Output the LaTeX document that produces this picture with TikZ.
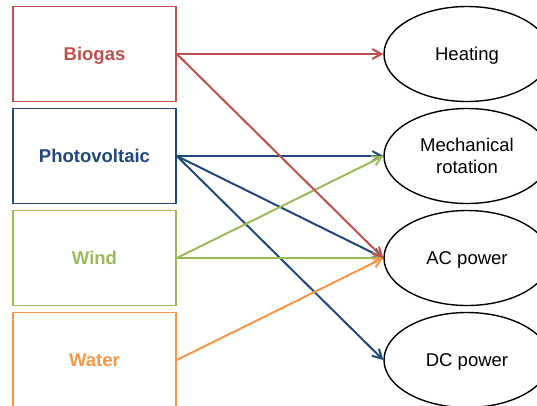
\documentclass[tikz,border=0pt]{standalone}
\usepackage{fontspec}
\setmainfont{Liberation Sans}
\usetikzlibrary{arrows.meta,positioning,shapes.geometric}
\definecolor{biored}{HTML}{C0504D}
\definecolor{pvblue}{HTML}{1F497D}
\definecolor{windgreen}{HTML}{9BBB59}
\definecolor{waterorange}{HTML}{F79646}
\tikzset{
  source/.style={draw, fill=white, line width=1.6pt, minimum width=163pt, minimum height=95pt, text depth=0pt, font=\fontsize{18.5}{22}\selectfont\bfseries},
  use/.style={ellipse, draw=black, line width=1.4pt, minimum width=166pt, minimum height=95pt, inner sep=0pt, text depth=0pt, align=center, font=\fontsize{18.5}{22}\selectfont},
  feed/.style={-{Straight Barb[length=9pt,width=10pt]}, line width=2pt},
}

\begin{document}
\begin{tikzpicture}[x=1pt, y=-1pt, node distance=5.4pt]
    \clip (0,0) rectangle (537,405);

    % energy sources
    \node[source, draw=biored, text=biored] (biogas) at (94.5,54) {Biogas};
    \node[source, draw=pvblue, text=pvblue, below=of biogas] (pv) {Photovoltaic};
    \node[source, draw=windgreen, text=windgreen, below=of pv] (wind) {Wind};
    \node[source, draw=waterorange, text=waterorange, below=of wind] (water) {Water};

    % end uses
    \node[use] (heating) at (467,54) {Heating};
    \node[use, below=5.6pt of heating] (mech) {Mechanical\\rotation};
    \node[use, below=5.6pt of mech] (ac) {AC power};
    \node[use, below=5.6pt of ac] (dc) {DC power};

    \draw[feed, pvblue] (pv.east) -- (mech.west);
    \draw[feed, pvblue] (pv.east) -- (ac.west);
    \draw[feed, pvblue] (pv.east) -- (dc.west);
    \draw[feed, windgreen] (wind.east) -- (mech.west);
    \draw[feed, windgreen] (wind.east) -- (ac.west);
    \draw[feed, waterorange] (water.east) -- (ac.west);
    \draw[feed, biored] (biogas.east) -- (heating.west);
    \draw[feed, biored] (biogas.east) -- (ac.west);
\end{tikzpicture}
\end{document}
